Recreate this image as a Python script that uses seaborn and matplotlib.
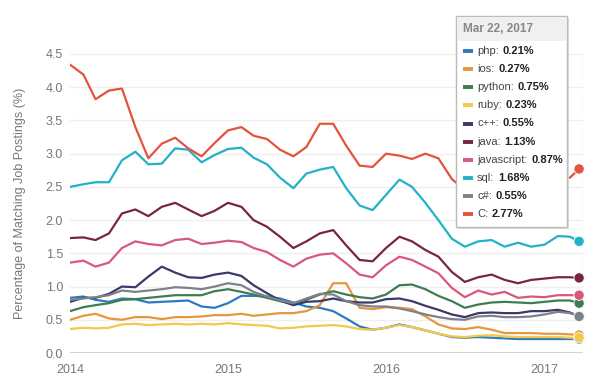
import matplotlib
matplotlib.use("Agg")
import matplotlib.pyplot as plt
import matplotlib.dates as mdates
from matplotlib.patches import Rectangle
import numpy as np
import pandas as pd
import seaborn as sns

# monthly points, last one is the hovered date
dates = list(pd.date_range("2014-01-01", "2017-03-01", freq="MS")) + [pd.Timestamp("2017-03-22")]

languages = ["php", "ios", "python", "ruby", "c++", "java", "javascript", "sql", "c#", "C"]
colors = ["#2b7bc4", "#e8963e", "#3d7d52", "#f2c94c", "#3a3a6a",
          "#7a2444", "#d9587a", "#22b2c8", "#7d8288", "#e4533c"]

php = [0.83, 0.85, 0.80, 0.77, 0.82, 0.81, 0.76, 0.77, 0.78, 0.79, 0.70, 0.68, 0.75,
       0.86, 0.86, 0.85, 0.82, 0.76, 0.70, 0.68, 0.63, 0.52, 0.40, 0.35, 0.38, 0.43,
       0.39, 0.34, 0.29, 0.24, 0.23, 0.24, 0.23, 0.22, 0.21, 0.21, 0.21, 0.21, 0.21, 0.21]
ios = [0.50, 0.56, 0.59, 0.52, 0.50, 0.54, 0.54, 0.51, 0.54, 0.54, 0.55, 0.57, 0.57,
       0.59, 0.56, 0.58, 0.60, 0.60, 0.63, 0.72, 1.05, 1.05, 0.68, 0.66, 0.69, 0.68,
       0.66, 0.55, 0.43, 0.37, 0.36, 0.39, 0.35, 0.30, 0.30, 0.30, 0.29, 0.29, 0.28, 0.27]
python = [0.63, 0.69, 0.72, 0.75, 0.80, 0.81, 0.83, 0.85, 0.87, 0.87, 0.87, 0.93, 0.96,
          0.92, 0.88, 0.83, 0.78, 0.74, 0.80, 0.88, 0.93, 0.88, 0.84, 0.82, 0.88, 1.02,
          1.03, 0.96, 0.86, 0.78, 0.68, 0.73, 0.76, 0.77, 0.76, 0.75, 0.77, 0.79, 0.79, 0.75]
ruby = [0.36, 0.38, 0.37, 0.38, 0.43, 0.44, 0.42, 0.43, 0.44, 0.43, 0.44, 0.43, 0.45,
        0.43, 0.42, 0.41, 0.37, 0.38, 0.40, 0.41, 0.42, 0.40, 0.36, 0.35, 0.38, 0.42,
        0.39, 0.34, 0.29, 0.25, 0.24, 0.26, 0.27, 0.25, 0.24, 0.24, 0.24, 0.24, 0.23, 0.23]
cpp = [0.77, 0.83, 0.83, 0.89, 1.00, 0.99, 1.15, 1.30, 1.21, 1.14, 1.13, 1.18, 1.21,
       1.16, 1.02, 0.90, 0.79, 0.72, 0.77, 0.78, 0.82, 0.78, 0.76, 0.76, 0.81, 0.82,
       0.78, 0.71, 0.65, 0.58, 0.54, 0.60, 0.61, 0.60, 0.60, 0.63, 0.63, 0.65, 0.61, 0.55]
java = [1.73, 1.74, 1.70, 1.80, 2.10, 2.16, 2.06, 2.20, 2.26, 2.16, 2.06, 2.14, 2.26,
        2.20, 2.00, 1.90, 1.75, 1.58, 1.68, 1.80, 1.85, 1.62, 1.40, 1.38, 1.58, 1.75,
        1.68, 1.55, 1.45, 1.22, 1.07, 1.14, 1.18, 1.10, 1.05, 1.10, 1.12, 1.14, 1.14, 1.13]
javascript = [1.36, 1.39, 1.30, 1.36, 1.58, 1.68, 1.64, 1.62, 1.70, 1.72, 1.64, 1.66, 1.69,
              1.67, 1.58, 1.52, 1.40, 1.30, 1.42, 1.48, 1.50, 1.35, 1.18, 1.14, 1.32, 1.45,
              1.40, 1.30, 1.20, 0.98, 0.84, 0.94, 0.88, 0.92, 0.83, 0.85, 0.84, 0.87, 0.87, 0.87]
sql = [2.50, 2.54, 2.57, 2.57, 2.90, 3.03, 2.84, 2.85, 3.08, 3.06, 2.87, 2.98, 3.07,
       3.09, 2.94, 2.84, 2.64, 2.48, 2.70, 2.76, 2.80, 2.48, 2.22, 2.15, 2.38, 2.61,
       2.50, 2.26, 2.00, 1.72, 1.60, 1.68, 1.70, 1.60, 1.66, 1.60, 1.63, 1.76, 1.75, 1.68]
csharp = [0.80, 0.82, 0.84, 0.87, 0.94, 0.92, 0.94, 0.96, 0.99, 0.98, 0.96, 1.00, 1.05,
          1.02, 0.92, 0.85, 0.79, 0.75, 0.82, 0.89, 0.88, 0.78, 0.72, 0.70, 0.70, 0.67,
          0.63, 0.58, 0.54, 0.51, 0.50, 0.55, 0.56, 0.54, 0.54, 0.55, 0.58, 0.62, 0.60, 0.55]
c_lang = [4.34, 4.19, 3.82, 3.95, 3.98, 3.40, 2.93, 3.15, 3.24, 3.08, 2.96, 3.16, 3.35,
          3.40, 3.27, 3.22, 3.06, 2.96, 3.10, 3.45, 3.45, 3.12, 2.82, 2.80, 3.00, 2.97,
          2.92, 3.00, 2.93, 2.62, 2.45, 2.45, 2.50, 2.50, 2.55, 2.55, 2.60, 2.62, 2.64, 2.77]

series = [php, ios, python, ruby, cpp, java, javascript, sql, csharp, c_lang]

rows = []
for name, vals in zip(languages, series):
    for d, v in zip(dates, vals):
        rows.append({"date": d, "value": v, "language": name})
df = pd.DataFrame(rows)

sns.set_style("white")
plt.rcParams["font.family"] = ["Liberation Sans", "DejaVu Sans"]

W, H = 599, 385
fig = plt.figure(figsize=(W / 100, H / 100), dpi=100)
ax = fig.add_axes([70 / W, 32 / H, 513 / W, 299 / H])

sns.lineplot(data=df, x="date", y="value", hue="language", hue_order=languages,
             palette=colors, linewidth=1.6, legend=False, ax=ax)

# end dots at hovered date
last = df[df["date"] == dates[-1]]
sns.scatterplot(data=last, x="date", y="value", hue="language", hue_order=languages,
                palette=colors, s=55, edgecolor="white", linewidth=0.6, legend=False,
                ax=ax, zorder=5)
ax.collections[-1].set_clip_on(False)
ax.axvline(dates[-1] + pd.Timedelta(days=8), color="#e6e6e6", lw=1, zorder=0)

ax.set_ylim(0, 4.5)
ax.set_xlim(pd.Timestamp("2014-01-01"), pd.Timestamp("2017-03-31"))
ax.set_yticks(np.arange(0, 4.51, 0.5))
ax.set_yticklabels([f"{t:.1f}" for t in np.arange(0, 4.51, 0.5)])
ax.xaxis.set_major_locator(mdates.YearLocator())
ax.xaxis.set_major_formatter(mdates.DateFormatter("%Y"))
ax.grid(axis="y", color="#efefef", lw=1)
ax.axhline(0, color="#cccccc", lw=1.2, zorder=1)
for s in ax.spines.values():
    s.set_visible(False)
ax.tick_params(axis="both", length=0, labelsize=9, colors="#777777")
ax.tick_params(axis="x", pad=8)
ax.tick_params(axis="y", pad=5)
ax.set_xlabel("")
ax.set_ylabel("Percentage of Matching Job Postings (%)", fontsize=9, color="#777777",
              labelpad=14)

# hover tooltip
def fx(x):
    return x / W

def fy(y):
    return 1 - y / H

bx0, by0, bx1, by1 = 456, 16, 567, 227
fig.patches.append(Rectangle((fx(bx0 + 2), fy(by1 + 2)), (bx1 - bx0) / W, (by1 - by0) / H,
                             transform=fig.transFigure, facecolor="#dddddd",
                             edgecolor="none", zorder=8))
fig.patches.append(Rectangle((fx(bx0), fy(by1)), (bx1 - bx0) / W, (by1 - by0) / H,
                             transform=fig.transFigure, facecolor="white",
                             edgecolor="#bbbbbb", lw=1, zorder=9))
fig.patches.append(Rectangle((fx(bx0 + 1), fy(41)), (bx1 - bx0 - 2) / W, (41 - by0 - 1) / H,
                             transform=fig.transFigure, facecolor="#f0f0f0",
                             edgecolor="none", zorder=10))
fig.text(fx(463), fy(29), dates[-1].strftime("%b %d, %Y"), fontsize=8.5,
         fontweight="bold", color="#888888", va="center", zorder=11)

fig.canvas.draw()
renderer = fig.canvas.get_renderer()
row_y = 50.7
for name, col, vals in zip(languages, colors, series):
    fig.lines.append(plt.Line2D([fx(463), fx(473)], [fy(row_y), fy(row_y)],
                                transform=fig.transFigure, color=col, lw=2.8,
                                solid_capstyle="butt", zorder=11))
    t = fig.text(fx(477), fy(row_y), name + ":", fontsize=8, color="#444444",
                 va="center", zorder=11)
    bb = t.get_window_extent(renderer)
    fig.text((bb.x1 + 4) / W, fy(row_y), f"{vals[-1]:.2f}%", fontsize=8,
             fontweight="bold", color="#222222", va="center", zorder=11)
    row_y += 18.2

fig.savefig("out.png", dpi=100)
